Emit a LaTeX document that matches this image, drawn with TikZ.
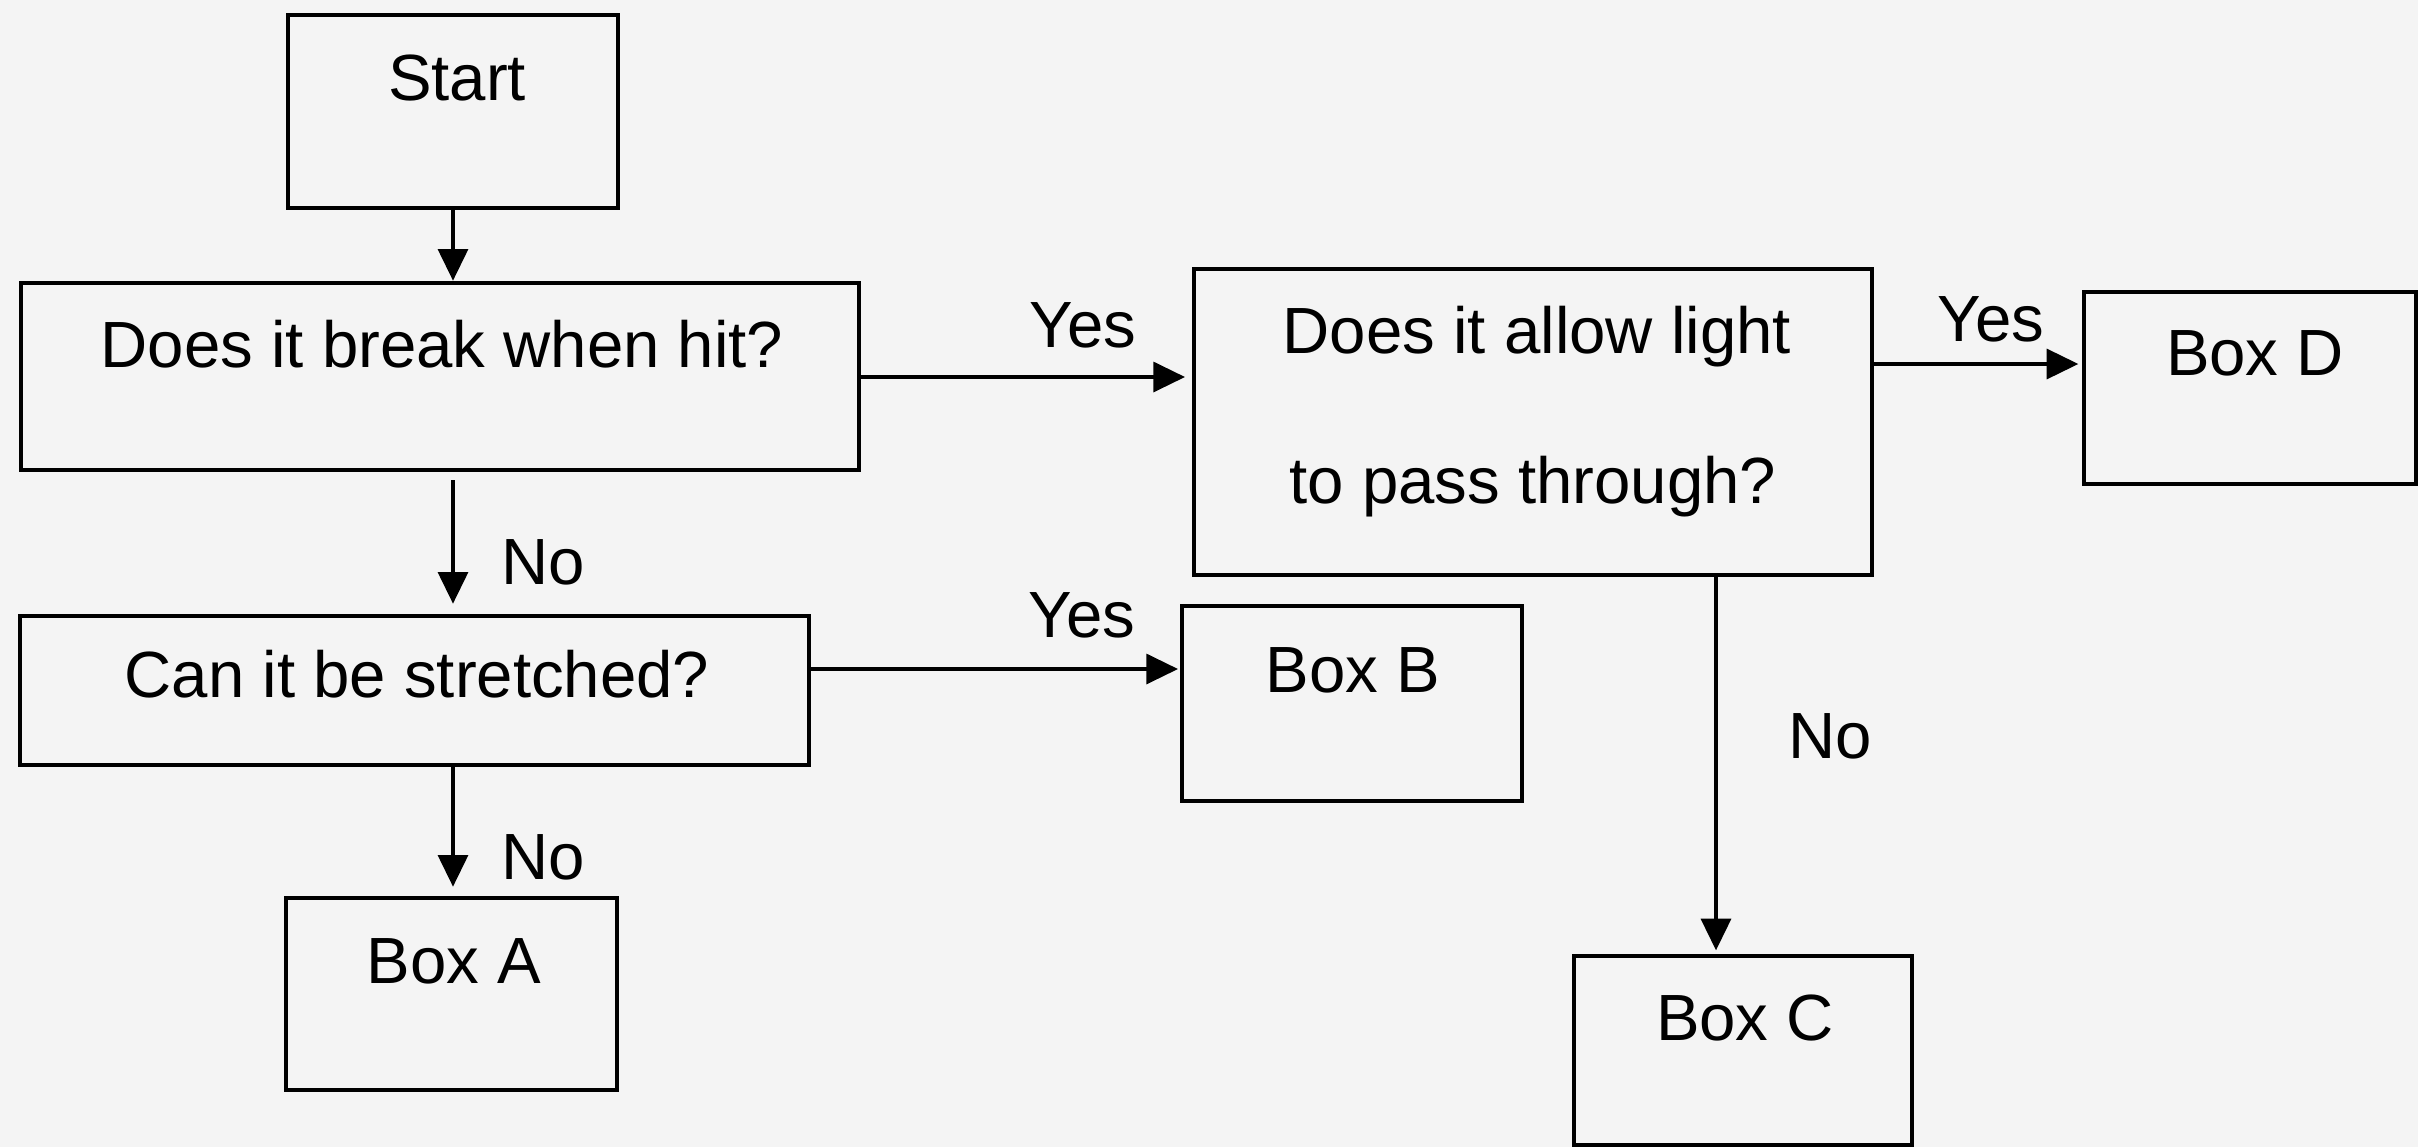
\documentclass[tikz,border=0pt]{standalone}
\usepackage{fontspec}
\setmainfont{Liberation Sans}
\usetikzlibrary{arrows.meta,fit}
\definecolor{bgcol}{HTML}{F4F4F4}
\tikzset{
  box/.style={draw=black, line width=1.4pt, inner sep=0pt, rectangle},
  txt/.style={anchor=base, inner sep=0pt, font=\fontsize{19.6pt}{45pt}\selectfont},
  arr/.style={draw=black, line width=1pt, -{Triangle[length=9.5pt,width=9pt]}}
}
\begin{document}
\begin{tikzpicture}[x=0.3pt,y=-0.3pt]
\fill[bgcol] (0,0) rectangle (2418,1147);
\useasboundingbox (0,0) rectangle (2418,1147);
% boxes
\node[box, fit={(288,15) (618,208)}] (start) {};
\node[box, fit={(21,283) (859,470)}] (q1) {};
\node[box, fit={(20,616) (809,765)}] (q2) {};
\node[box, fit={(286,898) (617,1090)}] (a) {};
\node[box, fit={(1182,606) (1522,801)}] (b) {};
\node[box, fit={(1194,269) (1872,575)}] (q3) {};
\node[box, fit={(2084,292) (2416,484)}] (d) {};
\node[box, fit={(1574,956) (1912,1145)}] (c) {};
% texts
\node[txt] (start-t) at (457,100) {Start};
\node[txt] (q1-t) at (442,367) {Does it break when hit?};
\node[txt] (q2-t) at (417,697) {Can it be stretched?};
\node[txt] (a-t) at (454,983) {Box A};
\node[txt] (b-t) at (1353,692) {Box B};
\node[txt] (q3-t1) at (1537,353) {Does it allow light};
\node[txt] (q3-t2) at (1533,503) {to pass through?};
\node[txt] (d-t) at (2255,375) {Box D};
\node[txt] (c-t) at (1745,1040) {Box C};
% labels
\node[txt] (yes1) at (1083,347) {Yes};
\node[txt] (yes2) at (1082,637) {Yes};
\node[txt] (yes3) at (1991,341) {Yes};
\node[txt] (no1) at (543,584) {No};
\node[txt] (no2) at (543,879) {No};
\node[txt] (no3) at (1830,758) {No};
% helper coordinates
\coordinate (xl) at (453,0);
\coordinate (yq1) at (0,377);
\coordinate (yb) at (0,669);
\coordinate (yd) at (0,364);
\coordinate (xc) at (1716,0);
% connectors
\draw[arr] (start.south) -- (start.south |- q1.north);
\draw[arr, shorten <=2.4pt, shorten >=3pt] (xl |- q1.south) -- (xl |- q2.north);
\draw[arr, shorten >=2.7pt] (xl |- q2.south) -- (xl |- a.north);
\draw[arr, shorten >=2pt] (q1.east |- yq1) -- (q3.west |- yq1);
\draw[arr, shorten >=0.5pt] (q2.east |- yb) -- (b.west |- yb);
\draw[arr, shorten >=1pt] (q3.east |- yd) -- (d.west |- yd);
\draw[arr, shorten >=1pt] (xc |- q3.south) -- (xc |- c.north);
\end{tikzpicture}
\end{document}
